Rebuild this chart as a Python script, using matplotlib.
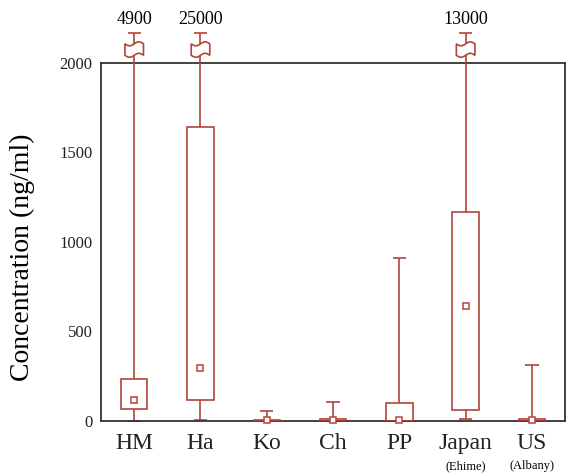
import numpy as np
import matplotlib.pyplot as plt
from matplotlib.patches import Polygon

plt.rcParams['font.family'] = ['Liberation Serif', 'DejaVu Serif']

groups = ['HM', 'Ha', 'Ko', 'Ch', 'PP', 'Japan', 'US']
subtitles = ['', '', '', '', '', '(Ehime)', '(Albany)']
q1 = [65, 117, 0, 0, 0, 61, 0]
q3 = [235, 1642, 8, 12, 102, 1168, 12]
center = [117, 298, 5, 8, 8, 642, 5]
low = [0, 5, 0, 0, 0, 11, 0]
high = [4900, 25000, 56, 106, 911, 13000, 313]

YMAX = 2000
red = '#b3443a'


def break_mark(ax, x, y):
    '''
    Objective: draw the little wavy break box on an off-scale whisker
    '''
    t = np.linspace(-1, 1, 24)
    w, h, a = 0.14, 32, 11
    top = [(x + w * s, y + h + a * np.sin(np.pi * s)) for s in t]
    bot = [(x + w * s, y - h + a * np.sin(np.pi * s)) for s in t[::-1]]
    ax.add_patch(Polygon(top + bot, closed=True, facecolor='white',
                         edgecolor=red, lw=1.2, clip_on=False, zorder=5))


def main():
    fig = plt.figure(figsize=(5.71, 4.75), dpi=100)
    ax = fig.add_axes([0.177, 0.1137, 0.8126, 0.7537])
    pos = np.arange(1, len(groups) + 1)

    for i, x in enumerate(pos):
        off = high[i] > YMAX
        top = 2168 if off else high[i]
        # whiskers
        ax.vlines(x, low[i], q1[i], color=red, lw=1.2, clip_on=False)
        ax.vlines(x, q3[i], top, color=red, lw=1.2, clip_on=False, zorder=4)
        ax.hlines([low[i], top], x - 0.1, x + 0.1, color=red, lw=1.2,
                  clip_on=False)
        # box
        ax.bar(x, q3[i] - q1[i], bottom=q1[i], width=0.4, fill=False,
               edgecolor=red, lw=1.2, zorder=3)
        ax.plot(x, center[i], 's', ms=5, mfc='white', mec=red, mew=1.1,
                zorder=6, clip_on=False)
        if off:
            break_mark(ax, x, 2075)
            ax.text(x, 2195, str(high[i]), ha='center', va='bottom',
                    fontsize=13)

    ax.set_xlim(0.5, 7.5)
    ax.set_ylim(0, YMAX)
    ax.set_yticks([0, 500, 1000, 1500, 2000])
    ax.set_xticks(pos)
    ax.set_xticklabels(groups)
    ax.tick_params(length=0, colors='#222222')
    ax.tick_params(axis='x', labelsize=17, pad=9)
    ax.tick_params(axis='y', labelsize=12, pad=6)
    for i, x in enumerate(pos):
        if subtitles[i]:
            ax.text(x, -0.126, subtitles[i], transform=ax.get_xaxis_transform(),
                    ha='center', va='center', fontsize=9)
    for s in ax.spines.values():
        s.set_color('#333333')
        s.set_linewidth(1.3)
    ax.set_ylabel('Concentration (ng/ml)', fontsize=20)
    ax.yaxis.set_label_coords(-0.142, 0.458)
    fig.savefig('out.png', dpi=100)


if __name__ == '__main__':
    main()
